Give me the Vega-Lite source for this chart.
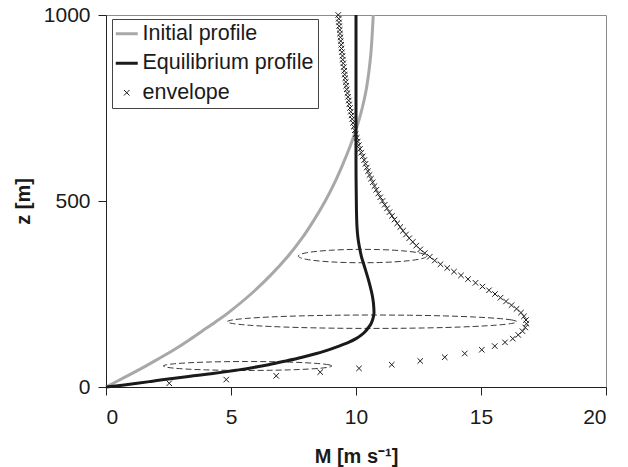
{
  "$schema": "https://vega.github.io/schema/vega-lite/v6.json",
  "width": 500,
  "height": 372,
  "autosize": {"type": "none"},
  "padding": {"left": 106, "top": 15, "right": 22, "bottom": 80},
  "background": "white",
  "config": {
    "font": "Liberation Sans",
    "view": {"stroke": "#8c8c8c", "strokeWidth": 1},
    "axis": {
      "labelFont": "Liberation Sans",
      "labelFontSize": 21,
      "labelColor": "#1a1a1a",
      "titleFont": "Liberation Sans",
      "titleFontSize": 20,
      "titleFontWeight": "bold",
      "titleColor": "#1a1a1a",
      "domainColor": "#222222",
      "tickColor": "#222222",
      "tickSize": 8,
      "grid": false
    }
  },
  "datasets": {
    "profiles": [
      {"series": "Initial profile", "z": 0, "M": 0},
      {"series": "Initial profile", "z": 25, "M": 0.72},
      {"series": "Initial profile", "z": 50, "M": 1.42},
      {"series": "Initial profile", "z": 75, "M": 2.08},
      {"series": "Initial profile", "z": 100, "M": 2.72},
      {"series": "Initial profile", "z": 125, "M": 3.3},
      {"series": "Initial profile", "z": 150, "M": 3.84},
      {"series": "Initial profile", "z": 175, "M": 4.38},
      {"series": "Initial profile", "z": 200, "M": 4.9},
      {"series": "Initial profile", "z": 250, "M": 5.8},
      {"series": "Initial profile", "z": 300, "M": 6.58},
      {"series": "Initial profile", "z": 350, "M": 7.26},
      {"series": "Initial profile", "z": 400, "M": 7.84},
      {"series": "Initial profile", "z": 450, "M": 8.33},
      {"series": "Initial profile", "z": 500, "M": 8.77},
      {"series": "Initial profile", "z": 550, "M": 9.15},
      {"series": "Initial profile", "z": 600, "M": 9.48},
      {"series": "Initial profile", "z": 650, "M": 9.78},
      {"series": "Initial profile", "z": 700, "M": 10.04},
      {"series": "Initial profile", "z": 750, "M": 10.25},
      {"series": "Initial profile", "z": 800, "M": 10.41},
      {"series": "Initial profile", "z": 850, "M": 10.52},
      {"series": "Initial profile", "z": 900, "M": 10.6},
      {"series": "Initial profile", "z": 950, "M": 10.65},
      {"series": "Initial profile", "z": 1000, "M": 10.69},
      {"series": "Equilibrium profile", "z": 0, "M": 0},
      {"series": "Equilibrium profile", "z": 5, "M": 0.65},
      {"series": "Equilibrium profile", "z": 10, "M": 1.25},
      {"series": "Equilibrium profile", "z": 15, "M": 1.8},
      {"series": "Equilibrium profile", "z": 20, "M": 2.33},
      {"series": "Equilibrium profile", "z": 25, "M": 2.9},
      {"series": "Equilibrium profile", "z": 30, "M": 3.5},
      {"series": "Equilibrium profile", "z": 35, "M": 4.1},
      {"series": "Equilibrium profile", "z": 40, "M": 4.68},
      {"series": "Equilibrium profile", "z": 45, "M": 5.2},
      {"series": "Equilibrium profile", "z": 50, "M": 5.68},
      {"series": "Equilibrium profile", "z": 60, "M": 6.5},
      {"series": "Equilibrium profile", "z": 70, "M": 7.2},
      {"series": "Equilibrium profile", "z": 80, "M": 7.85},
      {"series": "Equilibrium profile", "z": 90, "M": 8.42},
      {"series": "Equilibrium profile", "z": 100, "M": 8.9},
      {"series": "Equilibrium profile", "z": 110, "M": 9.32},
      {"series": "Equilibrium profile", "z": 120, "M": 9.7},
      {"series": "Equilibrium profile", "z": 130, "M": 10.0},
      {"series": "Equilibrium profile", "z": 140, "M": 10.22},
      {"series": "Equilibrium profile", "z": 150, "M": 10.38},
      {"series": "Equilibrium profile", "z": 160, "M": 10.5},
      {"series": "Equilibrium profile", "z": 170, "M": 10.6},
      {"series": "Equilibrium profile", "z": 180, "M": 10.66},
      {"series": "Equilibrium profile", "z": 190, "M": 10.7},
      {"series": "Equilibrium profile", "z": 200, "M": 10.72},
      {"series": "Equilibrium profile", "z": 215, "M": 10.71},
      {"series": "Equilibrium profile", "z": 230, "M": 10.69},
      {"series": "Equilibrium profile", "z": 250, "M": 10.64},
      {"series": "Equilibrium profile", "z": 270, "M": 10.57},
      {"series": "Equilibrium profile", "z": 290, "M": 10.49},
      {"series": "Equilibrium profile", "z": 310, "M": 10.4},
      {"series": "Equilibrium profile", "z": 330, "M": 10.31},
      {"series": "Equilibrium profile", "z": 350, "M": 10.22},
      {"series": "Equilibrium profile", "z": 375, "M": 10.14},
      {"series": "Equilibrium profile", "z": 400, "M": 10.08},
      {"series": "Equilibrium profile", "z": 430, "M": 10.04},
      {"series": "Equilibrium profile", "z": 470, "M": 10.02},
      {"series": "Equilibrium profile", "z": 520, "M": 10.01},
      {"series": "Equilibrium profile", "z": 600, "M": 10.0},
      {"series": "Equilibrium profile", "z": 800, "M": 10.0},
      {"series": "Equilibrium profile", "z": 1000, "M": 10.0}
    ],
    "envelope": [
      {"series": "envelope", "z": 10, "M": 2.53},
      {"series": "envelope", "z": 20, "M": 4.81},
      {"series": "envelope", "z": 30, "M": 6.81},
      {"series": "envelope", "z": 40, "M": 8.57},
      {"series": "envelope", "z": 50, "M": 10.12},
      {"series": "envelope", "z": 60, "M": 11.43},
      {"series": "envelope", "z": 70, "M": 12.57},
      {"series": "envelope", "z": 80, "M": 13.55},
      {"series": "envelope", "z": 90, "M": 14.35},
      {"series": "envelope", "z": 100, "M": 15.03},
      {"series": "envelope", "z": 110, "M": 15.55},
      {"series": "envelope", "z": 120, "M": 15.96},
      {"series": "envelope", "z": 130, "M": 16.27},
      {"series": "envelope", "z": 140, "M": 16.49},
      {"series": "envelope", "z": 150, "M": 16.66},
      {"series": "envelope", "z": 160, "M": 16.77},
      {"series": "envelope", "z": 170, "M": 16.82},
      {"series": "envelope", "z": 180, "M": 16.8},
      {"series": "envelope", "z": 190, "M": 16.72},
      {"series": "envelope", "z": 200, "M": 16.6},
      {"series": "envelope", "z": 210, "M": 16.42},
      {"series": "envelope", "z": 220, "M": 16.22},
      {"series": "envelope", "z": 230, "M": 16.0},
      {"series": "envelope", "z": 240, "M": 15.78},
      {"series": "envelope", "z": 250, "M": 15.56},
      {"series": "envelope", "z": 260, "M": 15.32},
      {"series": "envelope", "z": 270, "M": 15.06},
      {"series": "envelope", "z": 280, "M": 14.78},
      {"series": "envelope", "z": 290, "M": 14.48},
      {"series": "envelope", "z": 300, "M": 14.2},
      {"series": "envelope", "z": 310, "M": 13.92},
      {"series": "envelope", "z": 320, "M": 13.65},
      {"series": "envelope", "z": 330, "M": 13.38},
      {"series": "envelope", "z": 340, "M": 13.15},
      {"series": "envelope", "z": 350, "M": 12.95},
      {"series": "envelope", "z": 360, "M": 12.75},
      {"series": "envelope", "z": 370, "M": 12.57},
      {"series": "envelope", "z": 380, "M": 12.41},
      {"series": "envelope", "z": 390, "M": 12.27},
      {"series": "envelope", "z": 400, "M": 12.13},
      {"series": "envelope", "z": 410, "M": 12.0},
      {"series": "envelope", "z": 420, "M": 11.88},
      {"series": "envelope", "z": 430, "M": 11.77},
      {"series": "envelope", "z": 440, "M": 11.65},
      {"series": "envelope", "z": 450, "M": 11.54},
      {"series": "envelope", "z": 460, "M": 11.44},
      {"series": "envelope", "z": 470, "M": 11.34},
      {"series": "envelope", "z": 480, "M": 11.24},
      {"series": "envelope", "z": 490, "M": 11.15},
      {"series": "envelope", "z": 500, "M": 11.06},
      {"series": "envelope", "z": 510, "M": 10.97},
      {"series": "envelope", "z": 520, "M": 10.89},
      {"series": "envelope", "z": 530, "M": 10.81},
      {"series": "envelope", "z": 540, "M": 10.74},
      {"series": "envelope", "z": 550, "M": 10.67},
      {"series": "envelope", "z": 560, "M": 10.6},
      {"series": "envelope", "z": 570, "M": 10.54},
      {"series": "envelope", "z": 580, "M": 10.48},
      {"series": "envelope", "z": 590, "M": 10.43},
      {"series": "envelope", "z": 600, "M": 10.38},
      {"series": "envelope", "z": 610, "M": 10.33},
      {"series": "envelope", "z": 620, "M": 10.27},
      {"series": "envelope", "z": 630, "M": 10.21},
      {"series": "envelope", "z": 640, "M": 10.16},
      {"series": "envelope", "z": 650, "M": 10.11},
      {"series": "envelope", "z": 660, "M": 10.07},
      {"series": "envelope", "z": 670, "M": 10.03},
      {"series": "envelope", "z": 680, "M": 9.99},
      {"series": "envelope", "z": 690, "M": 9.95},
      {"series": "envelope", "z": 700, "M": 9.91},
      {"series": "envelope", "z": 710, "M": 9.88},
      {"series": "envelope", "z": 720, "M": 9.85},
      {"series": "envelope", "z": 730, "M": 9.82},
      {"series": "envelope", "z": 740, "M": 9.79},
      {"series": "envelope", "z": 750, "M": 9.76},
      {"series": "envelope", "z": 760, "M": 9.73},
      {"series": "envelope", "z": 770, "M": 9.71},
      {"series": "envelope", "z": 780, "M": 9.68},
      {"series": "envelope", "z": 790, "M": 9.66},
      {"series": "envelope", "z": 800, "M": 9.63},
      {"series": "envelope", "z": 810, "M": 9.61},
      {"series": "envelope", "z": 820, "M": 9.59},
      {"series": "envelope", "z": 830, "M": 9.57},
      {"series": "envelope", "z": 840, "M": 9.55},
      {"series": "envelope", "z": 850, "M": 9.53},
      {"series": "envelope", "z": 860, "M": 9.51},
      {"series": "envelope", "z": 870, "M": 9.49},
      {"series": "envelope", "z": 880, "M": 9.47},
      {"series": "envelope", "z": 890, "M": 9.46},
      {"series": "envelope", "z": 900, "M": 9.44},
      {"series": "envelope", "z": 910, "M": 9.42},
      {"series": "envelope", "z": 920, "M": 9.41},
      {"series": "envelope", "z": 930, "M": 9.39},
      {"series": "envelope", "z": 940, "M": 9.38},
      {"series": "envelope", "z": 950, "M": 9.36},
      {"series": "envelope", "z": 960, "M": 9.35},
      {"series": "envelope", "z": 970, "M": 9.33},
      {"series": "envelope", "z": 980, "M": 9.32},
      {"series": "envelope", "z": 990, "M": 9.31},
      {"series": "envelope", "z": 1000, "M": 9.29}
    ],
    "ellipses": [
      {"e": "a", "k": 0, "M": 12.83, "z": 352},
      {"e": "a", "k": 1, "M": 12.74, "z": 356.7},
      {"e": "a", "k": 2, "M": 12.49, "z": 361},
      {"e": "a", "k": 3, "M": 12.08, "z": 364.7},
      {"e": "a", "k": 4, "M": 11.55, "z": 367.6},
      {"e": "a", "k": 5, "M": 10.93, "z": 369.4},
      {"e": "a", "k": 6, "M": 10.26, "z": 370},
      {"e": "a", "k": 7, "M": 9.59, "z": 369.4},
      {"e": "a", "k": 8, "M": 8.98, "z": 367.6},
      {"e": "a", "k": 9, "M": 8.44, "z": 364.7},
      {"e": "a", "k": 10, "M": 8.03, "z": 361},
      {"e": "a", "k": 11, "M": 7.78, "z": 356.7},
      {"e": "a", "k": 12, "M": 7.69, "z": 352},
      {"e": "a", "k": 13, "M": 7.78, "z": 347.3},
      {"e": "a", "k": 14, "M": 8.03, "z": 343},
      {"e": "a", "k": 15, "M": 8.44, "z": 339.3},
      {"e": "a", "k": 16, "M": 8.98, "z": 336.4},
      {"e": "a", "k": 17, "M": 9.59, "z": 334.6},
      {"e": "a", "k": 18, "M": 10.26, "z": 334},
      {"e": "a", "k": 19, "M": 10.93, "z": 334.6},
      {"e": "a", "k": 20, "M": 11.55, "z": 336.4},
      {"e": "a", "k": 21, "M": 12.08, "z": 339.3},
      {"e": "a", "k": 22, "M": 12.49, "z": 343},
      {"e": "a", "k": 23, "M": 12.74, "z": 347.3},
      {"e": "b", "k": 0, "M": 16.43, "z": 175.5},
      {"e": "b", "k": 1, "M": 16.23, "z": 180.2},
      {"e": "b", "k": 2, "M": 15.65, "z": 184.5},
      {"e": "b", "k": 3, "M": 14.73, "z": 188.2},
      {"e": "b", "k": 4, "M": 13.54, "z": 191.1},
      {"e": "b", "k": 5, "M": 12.14, "z": 192.9},
      {"e": "b", "k": 6, "M": 10.64, "z": 193.5},
      {"e": "b", "k": 7, "M": 9.14, "z": 192.9},
      {"e": "b", "k": 8, "M": 7.75, "z": 191.1},
      {"e": "b", "k": 9, "M": 6.55, "z": 188.2},
      {"e": "b", "k": 10, "M": 5.63, "z": 184.5},
      {"e": "b", "k": 11, "M": 5.05, "z": 180.2},
      {"e": "b", "k": 12, "M": 4.85, "z": 175.5},
      {"e": "b", "k": 13, "M": 5.05, "z": 170.8},
      {"e": "b", "k": 14, "M": 5.63, "z": 166.5},
      {"e": "b", "k": 15, "M": 6.55, "z": 162.8},
      {"e": "b", "k": 16, "M": 7.75, "z": 159.9},
      {"e": "b", "k": 17, "M": 9.14, "z": 158.1},
      {"e": "b", "k": 18, "M": 10.64, "z": 157.5},
      {"e": "b", "k": 19, "M": 12.14, "z": 158.1},
      {"e": "b", "k": 20, "M": 13.54, "z": 159.9},
      {"e": "b", "k": 21, "M": 14.73, "z": 162.8},
      {"e": "b", "k": 22, "M": 15.65, "z": 166.5},
      {"e": "b", "k": 23, "M": 16.23, "z": 170.8},
      {"e": "c", "k": 0, "M": 9.03, "z": 56.5},
      {"e": "c", "k": 1, "M": 8.92, "z": 59.6},
      {"e": "c", "k": 2, "M": 8.58, "z": 62.5},
      {"e": "c", "k": 3, "M": 8.04, "z": 65},
      {"e": "c", "k": 4, "M": 7.35, "z": 66.9},
      {"e": "c", "k": 5, "M": 6.53, "z": 68.1},
      {"e": "c", "k": 6, "M": 5.66, "z": 68.5},
      {"e": "c", "k": 7, "M": 4.79, "z": 68.1},
      {"e": "c", "k": 8, "M": 3.98, "z": 66.9},
      {"e": "c", "k": 9, "M": 3.28, "z": 65},
      {"e": "c", "k": 10, "M": 2.74, "z": 62.5},
      {"e": "c", "k": 11, "M": 2.41, "z": 59.6},
      {"e": "c", "k": 12, "M": 2.29, "z": 56.5},
      {"e": "c", "k": 13, "M": 2.41, "z": 53.4},
      {"e": "c", "k": 14, "M": 2.74, "z": 50.5},
      {"e": "c", "k": 15, "M": 3.28, "z": 48},
      {"e": "c", "k": 16, "M": 3.98, "z": 46.1},
      {"e": "c", "k": 17, "M": 4.79, "z": 44.9},
      {"e": "c", "k": 18, "M": 5.66, "z": 44.5},
      {"e": "c", "k": 19, "M": 6.53, "z": 44.9},
      {"e": "c", "k": 20, "M": 7.35, "z": 46.1},
      {"e": "c", "k": 21, "M": 8.04, "z": 48},
      {"e": "c", "k": 22, "M": 8.58, "z": 50.5},
      {"e": "c", "k": 23, "M": 8.92, "z": 53.4}
    ]
  },
  "encoding": {
    "x": {
      "field": "M",
      "type": "quantitative",
      "scale": {"domain": [0, 20], "nice": false, "zero": false},
      "axis": {"values": [0, 5, 10, 15, 20], "format": "d", "title": "M [m s⁻¹]", "labelPadding": 11, "titlePadding": 19}
    },
    "y": {
      "field": "z",
      "type": "quantitative",
      "scale": {"domain": [0, 1000], "nice": false, "zero": false},
      "axis": {"values": [0, 500, 1000], "format": "d", "title": "z [m]", "labelPadding": 8, "titlePadding": 10}
    }
  },
  "layer": [
    {
      "data": {"name": "ellipses"},
      "mark": {"type": "line", "interpolate": "cardinal-closed", "strokeDash": [6, 3], "strokeWidth": 1, "color": "#3a3a3a"},
      "encoding": {
        "detail": {"field": "e", "type": "nominal"},
        "order": {"field": "k", "type": "quantitative"}
      }
    },
    {
      "data": {"name": "profiles"},
      "mark": {"type": "line", "strokeWidth": 3, "interpolate": "cardinal"},
      "encoding": {
        "color": {
          "field": "series",
          "type": "nominal",
          "scale": {"domain": ["Initial profile", "Equilibrium profile", "envelope"], "range": ["#a8a8a8", "#1a1a1a", "#1a1a1a"]},
          "legend": {
            "title": null,
            "orient": "none",
            "legendX": 6,
            "legendY": 4,
            "labelFont": "Liberation Sans",
            "labelFontSize": 21.5,
            "labelColor": "#1a1a1a",
            "strokeColor": "#444444",
            "fillColor": "white",
            "padding": 4,
            "rowPadding": 6.5,
            "symbolType": "stroke",
            "symbolSize": 484,
            "symbolStrokeWidth": 3,
            "labelOffset": 5,
            "labelLimit": 400,
            "encode": {
              "symbols": {
                "update": {
                  "shape": {"signal": "datum.value === 'envelope' ? 'M-1,-1L1,1M-1,1L1,-1' : 'stroke'"},
                  "size": {"signal": "datum.value === 'envelope' ? 30 : 484"},
                  "strokeWidth": {"signal": "datum.value === 'envelope' ? 1 : 3"}
                }
              }
            }
          }
        },
        "order": {"field": "z", "type": "quantitative"}
      }
    },
    {
      "data": {"name": "envelope"},
      "mark": {"type": "point", "shape": "M-1,-1L1,1M-1,1L1,-1", "filled": false, "size": 30, "strokeWidth": 1, "opacity": 1},
      "encoding": {
        "color": {"field": "series", "type": "nominal"}
      }
    }
  ]
}
